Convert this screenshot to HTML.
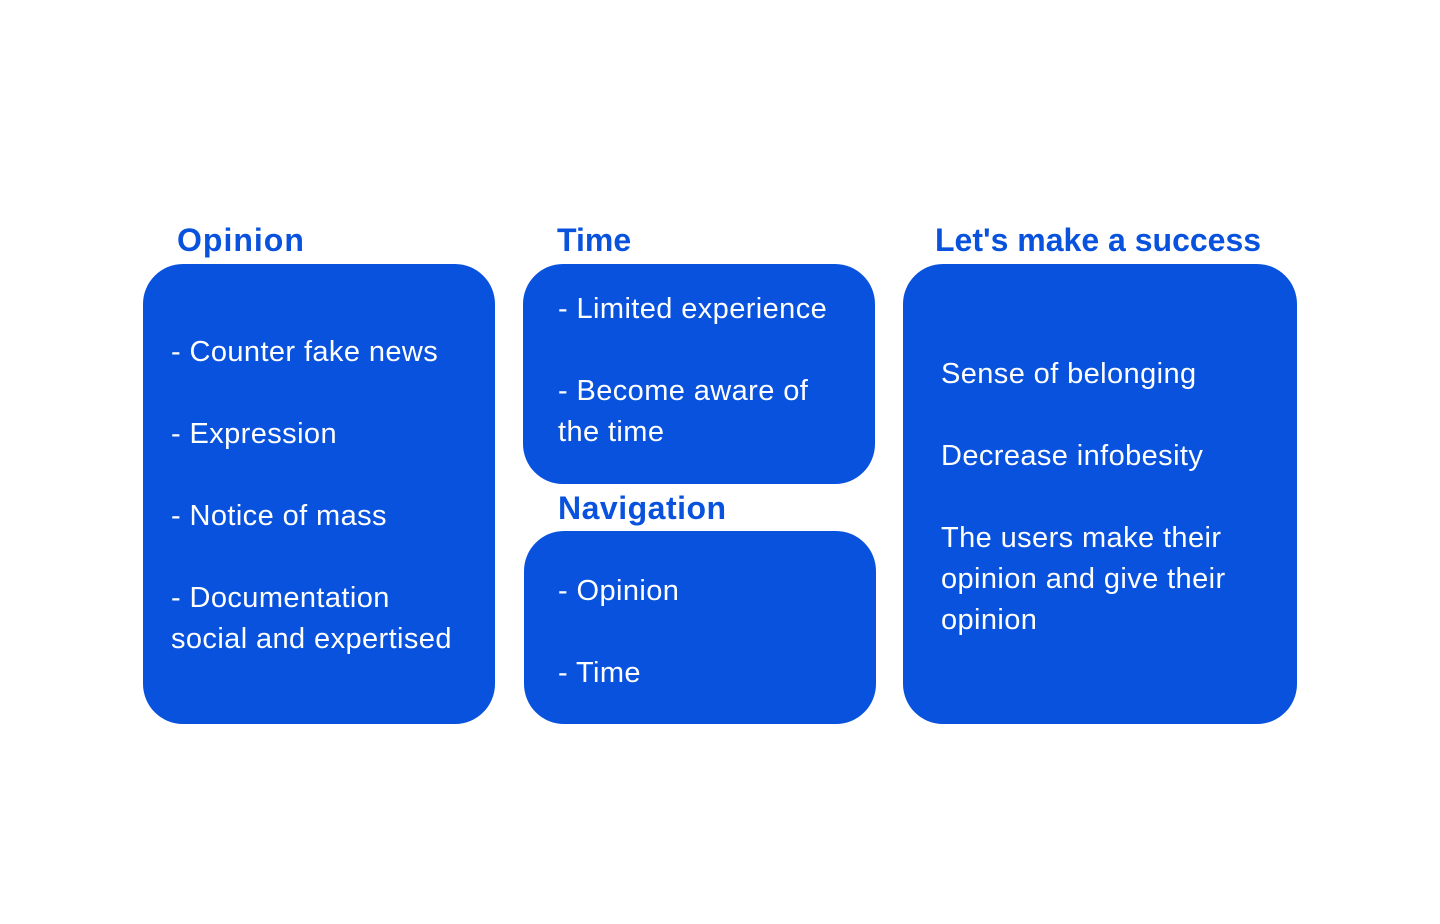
<!DOCTYPE html>
<html><head><meta charset="utf-8"><style>
body{margin:0;width:1440px;height:924px;background:#fff;position:relative;overflow:hidden;font-family:"Liberation Sans",sans-serif}
.b{position:absolute;background:#0852DD;border-radius:40px}
.t{position:absolute;color:#0852DD;font-weight:bold;font-size:32px;line-height:40px;white-space:nowrap}
.l{position:absolute;color:#fff;font-size:29px;letter-spacing:0.4px;line-height:40px;white-space:nowrap}
</style></head><body>
<div class="b" style="left:143px;top:264px;width:352px;height:460px"></div>
<div class="b" style="left:523px;top:264px;width:352px;height:220px"></div>
<div class="b" style="left:524px;top:531px;width:352px;height:193px"></div>
<div class="b" style="left:903px;top:264px;width:394px;height:460px"></div>

<div class="t" style="left:177px;top:220px;letter-spacing:1px">Opinion</div>
<div class="t" style="left:557px;top:220px">Time</div>
<div class="t" style="left:558px;top:488px;letter-spacing:0.5px">Navigation</div>
<div class="t" style="left:935px;top:220px">Let's make a success</div>

<div class="l" style="left:171px;top:332px">- Counter fake news</div>
<div class="l" style="left:171px;top:414px">- Expression</div>
<div class="l" style="left:171px;top:496px">- Notice of mass</div>
<div class="l" style="left:171px;top:578px">- Documentation</div>
<div class="l" style="left:171px;top:619px">social and expertised</div>

<div class="l" style="left:558px;top:289px">- Limited experience</div>
<div class="l" style="left:558px;top:371px">- Become aware of</div>
<div class="l" style="left:558px;top:412px">the time</div>

<div class="l" style="left:558px;top:571px">- Opinion</div>
<div class="l" style="left:558px;top:653px">- Time</div>

<div class="l" style="left:941px;top:354px">Sense of belonging</div>
<div class="l" style="left:941px;top:436px">Decrease infobesity</div>
<div class="l" style="left:941px;top:518px">The users make their</div>
<div class="l" style="left:941px;top:559px">opinion and give their</div>
<div class="l" style="left:941px;top:600px">opinion</div>
</body></html>
